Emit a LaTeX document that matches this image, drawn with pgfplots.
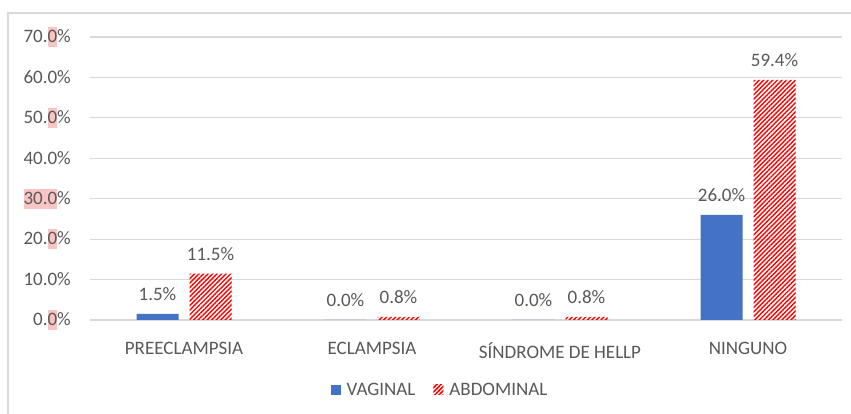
\documentclass[border=0pt]{standalone}
\usepackage{pgfplots}
\pgfplotsset{compat=1.18}
\usepackage{fontspec}
\setmainfont{Carlito}
\usetikzlibrary{patterns.meta}
\definecolor{vblue}{HTML}{4472C4}
\definecolor{txt}{HTML}{595959}
\definecolor{gridc}{HTML}{D9D9D9}
\definecolor{hlc}{HTML}{F8C4C4}
\newcommand{\hl}[1]{{\setlength{\fboxsep}{0pt}\colorbox{hlc}{\rule[-4.5pt]{0pt}{20pt}#1}}}
\newcommand{\chartfont}{\fontsize{19}{23}\selectfont}
\begin{document}
\begin{tikzpicture}[x=1pt,y=1pt]
\useasboundingbox (0,0) rectangle (851,414);
\fill[white] (0,0) rectangle (851,414);
\draw[gridc, line width=1.2pt] (851,401) -- (8,401) -- (8,0);
\begin{axis}[
  at={(90pt,94pt)}, anchor=south west,
  scale only axis, width=752pt, height=283pt,
  ybar=11pt, bar width=42pt,
  xmin=-0.5, xmax=3.5, ymin=0, ymax=70,
  xtick={0,1,2,3},
  xticklabels={PREECLAMPSIA, ECLAMPSIA, SÍNDROME DE HELLP, NINGUNO},
  ytick={0,10,20,30,40,50,60,70},
  yticklabels={0.\hl{0}\%, 10.0\%, 20.\hl{0}\%, \hl{30.0}\%, 40.0\%, 50.\hl{0}\%, 60.0\%, 70.\hl{0}\%},
  axis line style={draw=none},
  major tick length=0pt,
  ymajorgrids,
  grid style={gridc, line width=1.2pt},
  ticklabel style={font=\chartfont, text=txt},
  yticklabel style={inner sep=0pt, anchor=east, xshift=-19pt},
  xticklabel style={inner sep=0pt, anchor=north, yshift=-22pt},
  /pgf/number format/assume math mode=true,
  nodes near coords={\pgfmathprintnumber[fixed,fixed zerofill,precision=1]{\pgfplotspointmeta}\%},
  nodes near coords style={font=\chartfont, text=txt, inner sep=0pt, anchor=south, yshift=13pt},
  legend style={at={(0.4654,-0.2473)}, anchor=center, draw=none, fill=none,
    font=\chartfont, text=txt, legend columns=2,
    /tikz/every odd column/.append style={column sep=4pt},
    /tikz/every even column/.append style={column sep=16pt}},
  legend cell align=left,
  clip=false
]
\addplot[fill=vblue, draw=none,
  legend image code/.code={\fill[vblue] (0pt,-5pt) rectangle (10pt,5pt);}]
  coordinates {(0,1.5) (1,0.0) (2,0.0) (3,26.0)};
\addlegendentry{VAGINAL}
\addplot[draw=none, pattern={Lines[angle=45,distance=3.2pt,line width=1.4pt]}, pattern color=red,
  legend image code/.code={\fill[pattern={Lines[angle=45,distance=3pt,line width=1.5pt]}, pattern color=red] (0pt,-5pt) rectangle (10pt,5pt);}]
  coordinates {(0,11.5) (1,0.8) (2,0.8) (3,59.4)};
\addlegendentry{ABDOMINAL}
\end{axis}
\end{tikzpicture}
\end{document}
